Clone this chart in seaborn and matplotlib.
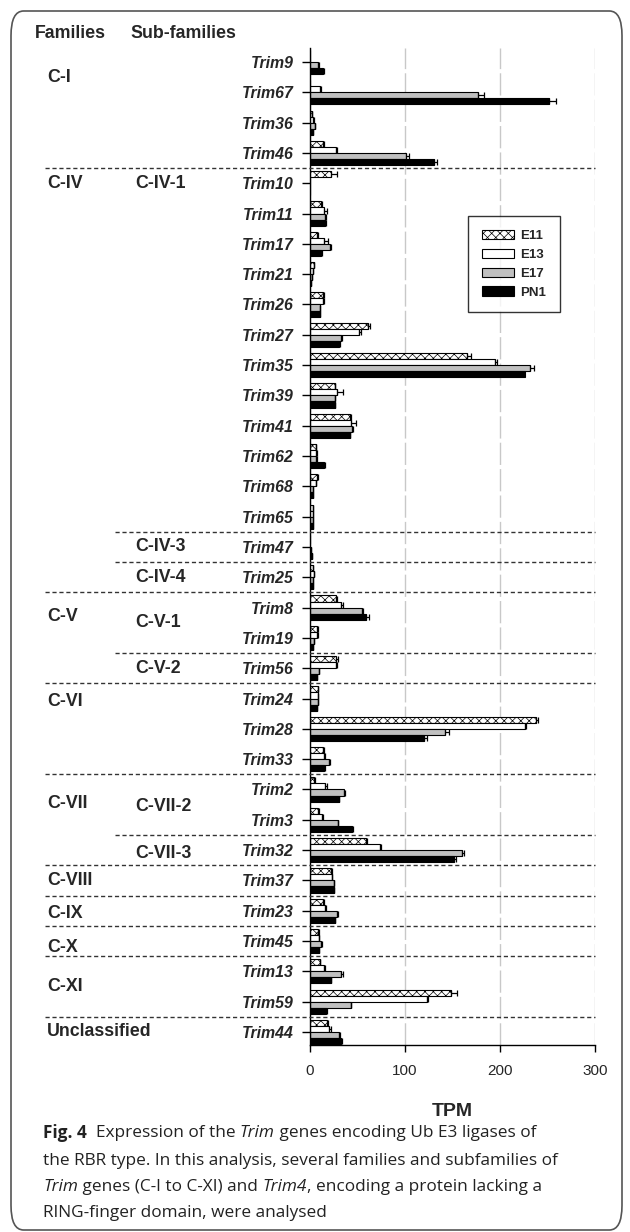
import numpy as np
import pandas as pd
import matplotlib
matplotlib.use("Agg")
import matplotlib.pyplot as plt
import seaborn as sns
from matplotlib.patches import Patch, FancyBboxPatch
from matplotlib.transforms import blended_transform_factory

# ---------------- data ----------------
genes = ["Trim9", "Trim67", "Trim36", "Trim46", "Trim10", "Trim11", "Trim17", "Trim21",
         "Trim26", "Trim27", "Trim35", "Trim39", "Trim41", "Trim62", "Trim68", "Trim65",
         "Trim47", "Trim25", "Trim8", "Trim19", "Trim56", "Trim24", "Trim28", "Trim33",
         "Trim2", "Trim3", "Trim32", "Trim37", "Trim23", "Trim45", "Trim13", "Trim59", "Trim44"]
stages = ["E11", "E13", "E17", "PN1"]

e11 = [0, 0, 2, 14, 22, 12, 7, 4, 14, 61, 165, 26, 42, 6, 7, 3,
       0.5, 3, 27, 7, 27, 8, 238, 14, 4, 8, 59, 22, 14, 8, 10, 148, 18]
e13 = [0.5, 10, 3, 27, 0, 15, 15, 3, 14, 52, 195, 28, 43, 6, 6, 3,
       0.5, 4, 33, 7, 27, 8, 226, 15, 16, 13, 74, 23, 16, 9, 15, 123, 20]
e17 = [8, 177, 5, 101, 0, 16, 21, 2, 10, 33, 232, 26, 44, 6, 3, 3,
       1, 3, 55, 4, 9, 8, 142, 20, 36, 29, 160, 25, 28, 12, 33, 43, 31]
pn1 = [14, 252, 3, 130, 0, 16, 12, 1, 10, 31, 226, 26, 42, 15, 3, 3,
       2, 3, 59, 3, 7, 7, 120, 15, 30, 44, 152, 25, 26, 9, 22, 17, 33]

err_e11 = [0, 0, 0.5, 1, 6, 1, 1, 0.5, 1, 2, 4, 0.5, 1, 0.5, 1, 0.5,
           0, 0.5, 1, 1, 2, 0.5, 2, 1, 1, 1, 1, 1, 1, 1, 1, 7, 1]
err_e13 = [0, 2, 1, 1, 0, 3, 4, 0.5, 1, 2, 2, 7, 5, 1, 0.5, 0.5,
           0, 0.5, 2, 1, 1, 0.5, 1, 1, 2, 1, 1, 0.5, 1, 0.5, 1, 1, 2]
err_e17 = [1, 6, 0.5, 3, 0, 0.5, 1, 0.5, 0.5, 1, 4, 0.5, 1, 1, 0.5, 0.5,
           0.3, 0.5, 1, 0.5, 0.5, 0.5, 4, 1, 0.5, 0.5, 2, 0.5, 1, 1, 2, 0.5, 1]
err_pn1 = [0.5, 7, 0.5, 4, 0, 0.5, 0.5, 0.3, 0.5, 1, 0, 0.5, 0.5, 0.5, 0.5, 0.5,
           0.3, 0.5, 3, 0.5, 0.5, 0.5, 3, 0.5, 0.5, 1, 2, 0.5, 0.5, 0.5, 0.5, 0.5, 1]

x_ticks = [0, 100, 200, 300]

families = [("C-I", 0.5), ("C-IV", 4.0), ("C-V", 18.3), ("C-VI", 21.1), ("C-VII", 24.45),
            ("C-VIII", 27.0), ("C-IX", 28.1), ("C-X", 29.2), ("C-XI", 30.5),
            ("Unclassified", 32.0)]
subfamilies = [("C-IV-1", 4.0), ("C-IV-3", 16.0), ("C-IV-4", 17.0), ("C-V-1", 18.5),
               ("C-V-2", 20.0), ("C-VII-2", 24.55), ("C-VII-3", 26.1)]
family_separators = [3.5, 17.5, 20.5, 23.5, 26.5, 27.5, 28.5, 29.5, 31.5]
subfamily_separators = [15.5, 16.5, 19.5, 25.5]

# ---------------- figure ----------------
W, H = 630, 1232
sns.set_theme(style="white")
plt.rcParams["font.family"] = ["Liberation Sans", "DejaVu Sans"]
plt.rcParams["hatch.linewidth"] = 0.5

fig = plt.figure(figsize=(W / 100, H / 100), dpi=100)
ax = fig.add_axes([310 / W, 1 - 1045 / H, (595 - 310) / W, (1045 - 48) / H])

df = pd.DataFrame({
    "gene": np.repeat(genes, 4),
    "stage": stages * len(genes),
    "TPM": np.column_stack([e11, e13, e17, pn1]).ravel(),
})
errs = [err_e11, err_e13, err_e17, err_pn1]

palette = {"E11": "white", "E13": "white", "E17": "#c0c0c0", "PN1": "black"}
sns.barplot(data=df, x="TPM", y="gene", hue="stage", order=genes, hue_order=stages,
            orient="h", palette=palette, saturation=1, errorbar=None, width=0.8,
            edgecolor="black", linewidth=0.8, legend=False, ax=ax)

hatch_e11 = "xxxx"
for bar in ax.containers[0]:
    bar.set_hatch(hatch_e11)

# one-sided error bars from each bar's end
for cont, err in zip(ax.containers, errs):
    xs, ys, es = [], [], []
    for bar, e in zip(cont, err):
        if e <= 0:
            continue
        xs.append(bar.get_x() + bar.get_width())
        ys.append(bar.get_y() + bar.get_height() / 2)
        es.append(e)
    es = np.array(es)
    ax.errorbar(xs, ys, xerr=[np.zeros_like(es), es], fmt="none", ecolor="black",
                elinewidth=0.9, capsize=2.2, capthick=0.9, zorder=3)

ax.set_xlim(0, 300)
ax.set_xticks(x_ticks)
ax.set_ylim(32.43, -0.462)
ax.set_ylabel("")
ax.set_xlabel("TPM", fontsize=14, fontweight="bold", labelpad=18)
ax.tick_params(axis="x", direction="out", length=5, width=1, color="black",
               labelsize=11, pad=9, bottom=True)
ax.tick_params(axis="y", direction="out", length=5.8, width=1, color="black",
               labelsize=11.4, pad=6, left=True)
for lab in ax.get_yticklabels():
    lab.set_fontweight("bold")
    lab.set_fontstyle("italic")
for s in ["top", "right"]:
    ax.spines[s].set_visible(False)
for s in ["left", "bottom"]:
    ax.spines[s].set_color("black")
    ax.spines[s].set_linewidth(1)
ax.grid(axis="x", color="#c8c8c8", linewidth=1, linestyle=(0, (16, 3)))
ax.grid(axis="y", visible=False)
ax.set_axisbelow(True)

# legend
handles = [
    Patch(facecolor="white", edgecolor="black", hatch=hatch_e11, linewidth=0.8, label="E11"),
    Patch(facecolor="white", edgecolor="black", linewidth=0.8, label="E13"),
    Patch(facecolor="#c0c0c0", edgecolor="black", linewidth=0.8, label="E17"),
    Patch(facecolor="black", edgecolor="black", linewidth=0.8, label="PN1"),
]
leg = fig.legend(handles=handles, loc="upper left", bbox_to_anchor=(468 / W, 1 - 216 / H),
                 prop={"weight": "bold", "size": 9.5}, frameon=True, fancybox=False,
                 edgecolor="black", handlelength=2.4, handleheight=0.7,
                 labelspacing=0.5, borderpad=1.05, handletextpad=0.5, borderaxespad=0)
leg.get_frame().set_linewidth(1)

# separators
trans = blended_transform_factory(fig.transFigure, ax.transData)
for y in family_separators:
    ax.plot([45 / W, 595 / W], [y, y], transform=trans, clip_on=False,
            color="#333333", linewidth=1, linestyle=(0, (3, 2)), zorder=4)
for y in subfamily_separators:
    ax.plot([115 / W, 595 / W], [y, y], transform=trans, clip_on=False,
            color="#333333", linewidth=1, linestyle=(0, (3, 2)), zorder=4)

for name, y in families:
    ax.text(47 / W, y, name, transform=trans, fontsize=12.8, fontweight="bold",
            va="center", ha="left")
for name, y in subfamilies:
    ax.text(135 / W, y, name, transform=trans, fontsize=12.8, fontweight="bold",
            va="center", ha="left")

fig.text(35 / W, 1 - 34 / H, "Families", fontsize=12.8, fontweight="bold", va="center", ha="left")
fig.text(130 / W, 1 - 34 / H, "Sub-families", fontsize=12.8, fontweight="bold", va="center", ha="left")

# border
border = FancyBboxPatch((11 / W, 1 - 1230 / H), (622 - 11) / W, (1230 - 11) / H,
                        boxstyle="round,pad=0,rounding_size=0.02", transform=fig.transFigure,
                        facecolor="none", edgecolor="#555555", linewidth=1.2)
fig.patches.append(border)

# caption with mixed styles
fig.canvas.draw()
renderer = fig.canvas.get_renderer()
cap_font = ["Open Sans", "DejaVu Sans"]


def text_width(s, **kw):
    t1 = fig.text(0, 0, "|" + s + "|", **kw)
    t2 = fig.text(0, 0, "||", **kw)
    w = t1.get_window_extent(renderer).width - t2.get_window_extent(renderer).width
    t1.remove()
    t2.remove()
    return w


line2 = "the RBR type. In this analysis, several families and subfamilies of"
base = text_width(line2, fontsize=10, family=cap_font)
cap_size = 10 * 515 / base

caption_lines = [
    ([("Fig. 4", "bold", "normal"), ("  Expression of the ", "normal", "normal"),
      ("Trim", "normal", "italic"), (" genes encoding Ub E3 ligases of", "normal", "normal")], 1133),
    ([(line2, "normal", "normal")], 1161),
    ([("Trim", "normal", "italic"), (" genes (C-I to C-XI) and ", "normal", "normal"),
      ("Trim4", "normal", "italic"), (", encoding a protein lacking a", "normal", "normal")], 1187),
    ([("RING-finger domain, were analysed", "normal", "normal")], 1213),
]
for parts, y in caption_lines:
    x = 43
    for s, wgt, sty in parts:
        kw = dict(fontsize=cap_size, family=cap_font, fontweight=wgt, fontstyle=sty)
        fig.text(x / W, 1 - y / H, s, va="center", ha="left", color="#222222", **kw)
        x += text_width(s, **kw)

fig.savefig("out.png", dpi=100)
